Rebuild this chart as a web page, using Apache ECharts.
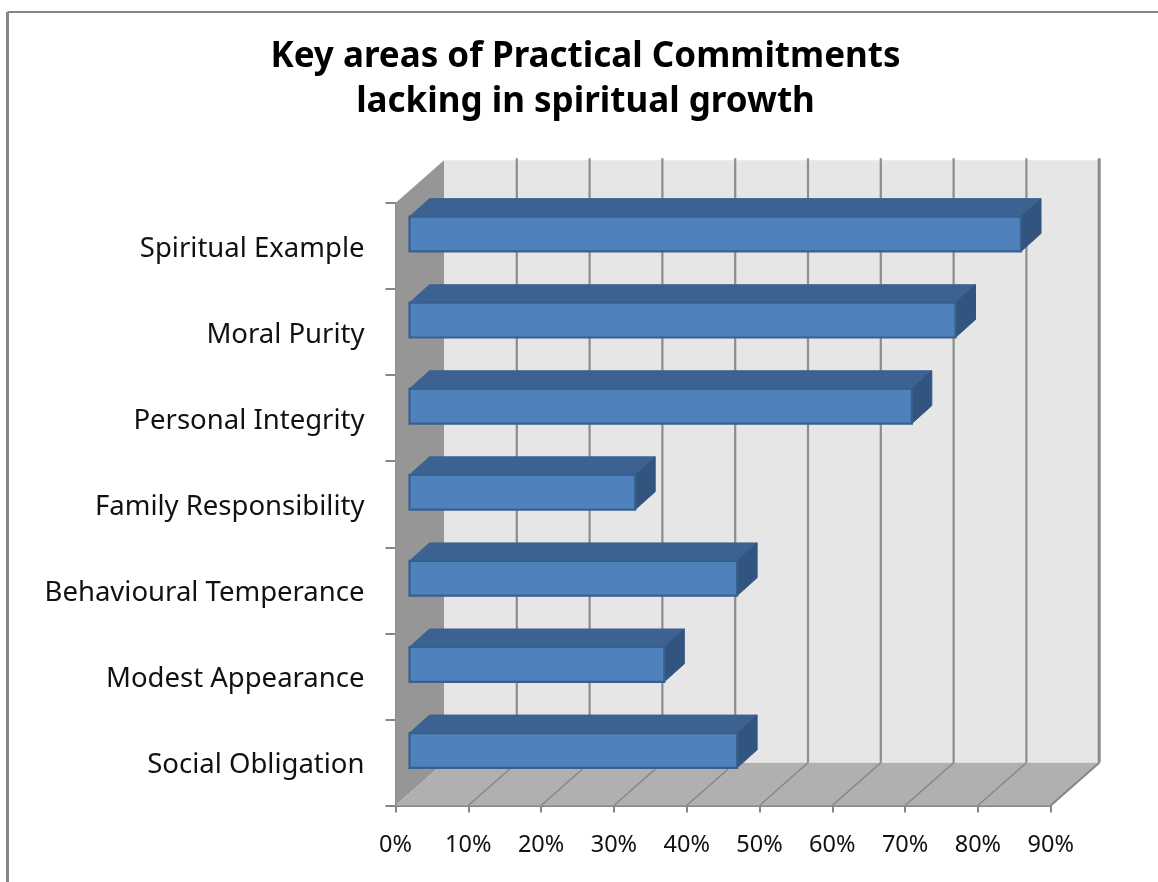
<!DOCTYPE html>
<html><head><meta charset="utf-8">
<style>html,body{margin:0;padding:0;background:#fff}#c{width:1158px;height:882px}</style>
<script src="https://cdn.jsdelivr.net/npm/echarts@6/dist/echarts.min.js"></script>
</head><body><div id="c"></div>
<script>
const categories = ['Spiritual Example','Moral Purity','Personal Integrity','Family Responsibility','Behavioural Temperance','Modest Appearance','Social Obligation'];
const values = [84, 75, 69, 31, 45, 35, 45];
const xTicks = [0,10,20,30,40,50,60,70,80,90];
const titleLines = ['Key areas of Practical Commitments','lacking in spiritual growth'];

const chart = echarts.init(document.getElementById('c'), null, {renderer:'canvas'});
const DX = 48.5, DY = -42.8;          // depth of the plot box
const FX = 14, FY = -12, BX = 20, BY = -18; // bar front offset and bar depth
const FONT = '"Noto Sans", sans-serif';

function poly(points, fill, stroke, lw){
  return {type:'polygon', shape:{points}, style:{fill, stroke: stroke||null, lineWidth: lw||0}, silent:true};
}
function line(x1,y1,x2,y2,stroke,lw){
  return {type:'line', shape:{x1,y1,x2,y2}, style:{stroke, lineWidth:lw}, silent:true};
}

chart.setOption({
  animation:false,
  backgroundColor:'#fff',
  title:{
    text:titleLines.join('\n'), left:580.5, top:30, textAlign:'center',
    textStyle:{fontFamily:FONT, fontWeight:'bold', fontSize:35, lineHeight:45, color:'#000'}
  },
  graphic:[
    {type:'line', shape:{x1:7.5,y1:12,x2:1158,y2:12}, style:{stroke:'#868686',lineWidth:2}},
    {type:'line', shape:{x1:7.5,y1:12,x2:7.5,y2:882}, style:{stroke:'#868686',lineWidth:3}}
  ],
  grid:{left:395.5, top:203, width:655.2, height:602.5, containLabel:false},
  xAxis:{
    type:'value', min:0, max:90, interval:10, position:'bottom',
    axisLine:{show:true, lineStyle:{color:'#868686',width:2}},
    axisTick:{show:true, length:7, lineStyle:{color:'#868686',width:2}},
    splitLine:{show:false},
    axisLabel:{formatter:'{value}%', margin:28, color:'#111', fontFamily:FONT, fontSize:23.5, hideOverlap:false}
  },
  yAxis:{
    type:'category', data:categories, inverse:true,
    axisLine:{show:true, lineStyle:{color:'#868686',width:2}},
    axisTick:{show:true, length:10, lineStyle:{color:'#868686',width:2}},
    splitLine:{show:false},
    axisLabel:{margin:31, color:'#111', fontFamily:FONT, fontSize:27.5, interval:0, verticalAlign:'top', lineHeight:6}
  },
  series:[
    {
      type:'custom', name:'walls', z:1, silent:true,
      coordinateSystem:'cartesian2d',
      data:[[0,0]],
      encode:{x:0,y:1},
      renderItem(params){
        const g = params.coordSys, x0=g.x, x1=g.x+g.width, t=g.y, b=g.y+g.height;
        const kids = [
          poly([[x0+DX,t+DY],[x1+DX,t+DY],[x1+DX,b+DY],[x0+DX,b+DY]],'#e6e6e6'),
          poly([[x0,t],[x0+DX,t+DY],[x0+DX,b+DY],[x0,b]],'#969696'),
          poly([[x0,b],[x0+DX,b+DY],[x1+DX,b+DY],[x1,b]],'#b0b0b0')
        ];
        return {type:'group', children:kids};
      }
    },
    {
      type:'custom', name:'gridlines', z:2, silent:true,
      coordinateSystem:'cartesian2d',
      data:xTicks.map(v=>[v,0]),
      encode:{x:0,y:1},
      renderItem(params, api){
        const g = params.coordSys, v = api.value(0);
        if (v === 0) return {type:'group', children:[]};
        const x = api.coord([v,0])[0], t=g.y, b=g.y+g.height;
        const last = v === xTicks[xTicks.length-1];
        return {type:'group', children:[
          line(x+DX,t+DY-2,x+DX,b+DY,'#8c8c8c', last?3:2.2),
          line(x+DX,b+DY,x,b,'#868686',last?2:1.5)
        ]};
      }
    },
    {
      type:'custom', name:'Practical Commitments', z:3, silent:true,
      coordinateSystem:'cartesian2d',
      data:values.map((v,i)=>[v,i]),
      encode:{x:0,y:1},
      renderItem(params, api){
        const v = api.value(0), i = api.value(1);
        const base = api.coord([0,i]), end = api.coord([v,i]);
        const h = api.size([0,1])[1]*0.404;
        const l = base[0]+FX, r = end[0]+FX, t = base[1]+FY-h/2, b = base[1]+FY+h/2;
        return {type:'group', children:[
          poly([[l,t],[l+BX,t+BY],[r+BX,t+BY],[r,t]],'#3c6291','#3a6190',1),
          poly([[r,t],[r+BX,t+BY],[r+BX,b+BY],[r,b]],'#32557f','#32557f',1),
          poly([[l,t],[r,t],[r,b],[l,b]],'#4f81bd','#38608f',2.2)
        ]};
      }
    }
  ]
});
</script></body></html>
